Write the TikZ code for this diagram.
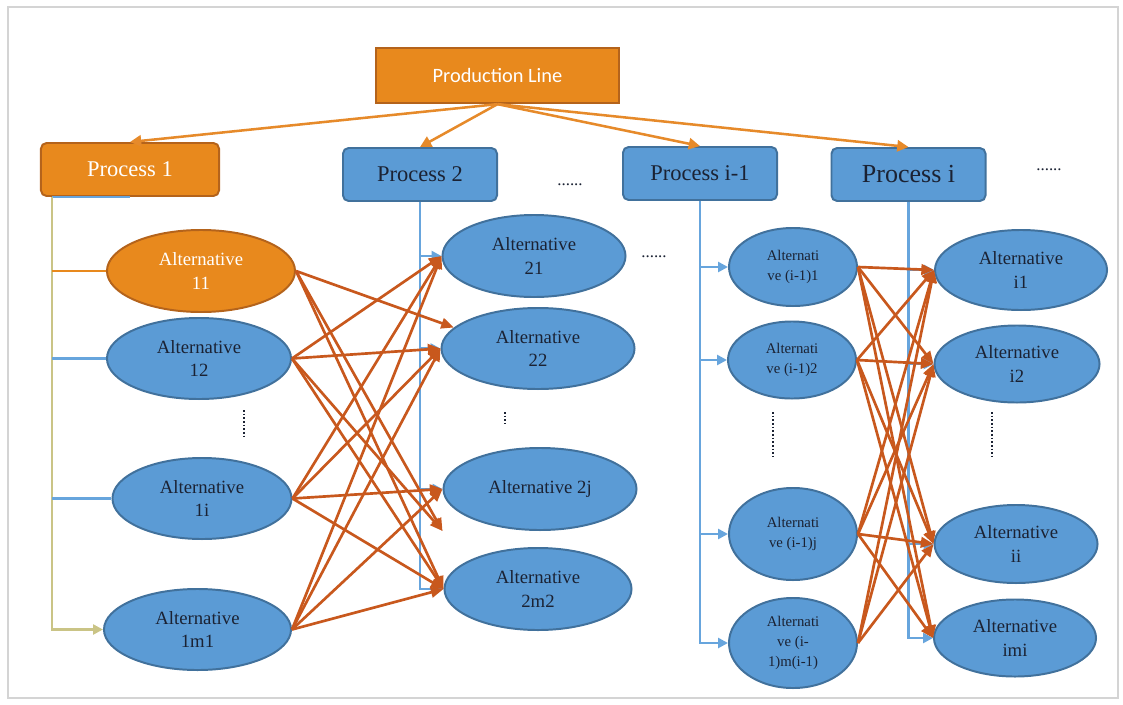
\documentclass[tikz,border=0pt]{standalone}
\usepackage{fontspec}
\setmainfont{Liberation Serif}
\newfontfamily\plfont{Carlito}
\usetikzlibrary{arrows.meta,shapes.geometric,calc}
\definecolor{OrangeFill}{HTML}{E8891D}
\definecolor{OrangeLine}{HTML}{B4631B}
\definecolor{BlueFill}{HTML}{5B9BD5}
\definecolor{BlueLine}{HTML}{41719C}
\definecolor{TreeBlue}{HTML}{67A5DD}
\definecolor{Rust}{HTML}{C8581D}
\definecolor{TopOrange}{HTML}{E68A2A}
\definecolor{Khaki}{HTML}{CAC486}
\definecolor{Ink}{HTML}{1B2233}
\definecolor{FrameGray}{HTML}{D4D4D4}

\tikzset{
  plbox/.style={rectangle,fill=OrangeFill,draw=OrangeLine,line width=1.6pt,minimum width=6.075cm,minimum height=1.375cm,text=white,font=\plfont\fontsize{14.5}{17}\selectfont},
  procbox/.style={rectangle,rounded corners=4pt,fill=BlueFill,draw=BlueLine,line width=1.4pt,minimum width=3.85cm,minimum height=1.325cm,text=Ink,font=\fontsize{16}{19}\selectfont},
  altnode/.style={ellipse,fill=BlueFill,draw=BlueLine,line width=1.4pt,inner sep=0pt,align=center,text=Ink,font=\fontsize{13.3}{16.5}\selectfont},
  altsmall/.style={altnode,minimum width=3.2cm,font=\fontsize{10.5}{14.2}\selectfont},
  hotnode/.style={fill=OrangeFill,draw=OrangeLine,text=white},
  gapdots/.style={inner sep=0pt,text=Ink,font=\fontsize{12}{14}\selectfont},
  vdots/.style={Ink,line width=1.5pt,dash pattern=on 1.3pt off 1.3pt},
  toparrow/.style={-{Triangle[length=8pt,width=8pt]},TopOrange,line width=1.8pt},
  treeline/.style={TreeBlue,line width=1.8pt},
  treearrow/.style={treeline,-{Triangle[length=7pt,width=7pt]}},
  crossarrow/.style={-{Triangle[length=9pt,width=7.5pt]},Rust,line width=1.9pt},
}

\begin{document}
\begin{tikzpicture}[x=0.025cm,y=-0.025cm]
\useasboundingbox (0,0) rectangle (1123,704);
\draw[FrameGray,line width=1.8pt] (8,7) rectangle (1118,698);

% line and processes
\node[plbox] (pl) at (497.5,75.5) {Production Line};
\node[procbox,hotnode,minimum width=4.45cm] (p1) at (130,169.5) {Process 1};
\node[procbox] (p2) at (420,174.5) {Process 2};
\node[procbox] (p3) at (700,173.5) {Process i-1};
\node[procbox,font=\fontsize{18.5}{21}\selectfont] (p4) at (908.5,174.5) {Process i};

\node[gapdots] (gap2) at (570,185) {......};
\node[gapdots] (gap3) at (654,257) {......};
\node[gapdots] (gap4) at (1049,170) {......};

% alternatives of process 1
\node[altnode,hotnode,minimum width=4.7cm,minimum height=2.05cm] (a11) at (201,271) {Alternative\\11};
\node[altnode,minimum width=4.6cm,minimum height=2.025cm] (a12) at (199,358.5) {Alternative\\12};
\node[altnode,minimum width=4.475cm,minimum height=2.025cm] (a1i) at (202,498.5) {Alternative\\1i};
\node[altnode,minimum width=4.675cm,minimum height=2.025cm] (a1m) at (197.5,629.5) {Alternative\\1m1};

% alternatives of process 2
\node[altnode,minimum width=4.575cm,minimum height=2.05cm] (a21) at (534,256) {Alternative\\21};
\node[altnode,minimum width=4.825cm,minimum height=2.025cm] (a22) at (538,348.5) {Alternative\\22};
\node[altnode,minimum width=4.825cm,minimum height=2.05cm] (a2j) at (540,489) {Alternative 2j};
\node[altnode,minimum width=4.675cm,minimum height=2.05cm] (a2m) at (538,589) {Alternative\\2m2};

% alternatives of process i-1
\node[altsmall,minimum height=1.95cm] (a31) at (793,267) {Alternati\\ve (i-1)1};
\node[altsmall,minimum height=1.925cm] (a32) at (792,360) {Alternati\\ve (i-1)2};
\node[altsmall,minimum height=2.3cm] (a3j) at (793,534) {Alternati\\ve (i-1)j};
\node[altsmall,minimum height=2.25cm] (a3m) at (793,643) {Alternati\\ve (i-\\1)m(i-1)};

% alternatives of process i
\node[altnode,minimum width=4.3cm,minimum height=2cm] (a41) at (1021,270) {Alternative\\i1};
\node[altnode,minimum width=4.125cm,minimum height=1.925cm] (a42) at (1017,364) {Alternative\\i2};
\node[altnode,minimum width=4.075cm,minimum height=1.95cm] (a4i) at (1016,544) {Alternative\\ii};
\node[altnode,minimum width=4.05cm,minimum height=1.925cm] (a4m) at (1015,638) {Alternative\\imi};

\draw[vdots] (244,410) -- (244,436);
\draw[vdots] (505,412) -- (505,424);
\draw[vdots] (773,412) -- (773,457);
\draw[vdots] (992,412) -- (992,457);

% production line to processes
\draw[toparrow] (pl.south) -- (p1.north);
\draw[toparrow] (pl.south) -- (p2.north);
\draw[toparrow] (pl.south) -- (p3.north);
\draw[toparrow] (pl.south) -- (p4.north);

% process trees
\coordinate (t1) at ($(p1.south west)+(12,0)$);
\draw[treeline] (t1) -- (t1 -| p1.south);
\draw[Khaki,line width=1.8pt,-{Triangle[length=7pt,width=7pt]}] (t1) |- (a1m.west);
\draw[OrangeFill,line width=1.8pt] (t1 |- a11.west) -- (a11.west);
\draw[treeline] (t1 |- a12.west) -- (a12.west);
\draw[treeline] (t1 |- a1i.west) -- (a1i.west);

\draw[treearrow] (p2.south) |- (a2m.west);
\draw[treearrow] (p2.south |- a21.west) -- (a21.west);
\draw[treearrow] (p2.south |- a22.west) -- (a22.west);
\draw[treearrow] (p2.south |- a2j.west) -- (a2j.west);

\draw[treearrow] (p3.south) |- (a3m.west);
\draw[treearrow] (p3.south |- a31.west) -- (a31.west);
\draw[treearrow] (p3.south |- a32.west) -- (a32.west);
\draw[treearrow] (p3.south |- a3j.west) -- (a3j.west);

\draw[treearrow] (p4.south) |- (a4m.west);
\draw[treearrow] (p4.south |- a41.west) -- (a41.west);
\draw[treearrow] (p4.south |- a42.west) -- (a42.west);
\draw[treearrow] (p4.south |- a4i.west) -- (a4i.west);

% process 1 to process 2
\draw[crossarrow] (a11.east) -- (a22.166);
\draw[crossarrow] (a11.east) -- (a2j.west |- a2j.south);
\draw[crossarrow] (a11.east) -- (a2m.west);
\draw[crossarrow] (a12.east) -- (a21.west);
\draw[crossarrow] (a12.east) -- (a22.west);
\draw[crossarrow] (a12.east) -- (a2j.west |- a2j.south);
\draw[crossarrow] (a12.east) -- (a2m.west);
\draw[crossarrow] (a1i.east) -- (a21.west);
\draw[crossarrow] (a1i.east) -- (a22.west);
\draw[crossarrow] (a1i.east) -- (a2j.west);
\draw[crossarrow] (a1i.east) -- (a2m.west);
\draw[crossarrow] (a1m.east) -- (a21.west);
\draw[crossarrow] (a1m.east) -- (a22.west);
\draw[crossarrow] (a1m.east) -- (a2j.west);
\draw[crossarrow] (a1m.east) -- (a2m.west);

% process i-1 to process i
\draw[crossarrow] (a31.east) -- (a41.west);
\draw[crossarrow] (a31.east) -- (a42.west);
\draw[crossarrow] (a31.east) -- (a4i.west);
\draw[crossarrow] (a31.east) -- (a4m.west);
\draw[crossarrow] (a32.east) -- (a41.west);
\draw[crossarrow] (a32.east) -- (a42.west);
\draw[crossarrow] (a32.east) -- (a4i.west);
\draw[crossarrow] (a32.east) -- (a4m.west);
\draw[crossarrow] (a3j.east) -- (a41.west);
\draw[crossarrow] (a3j.east) -- (a42.west);
\draw[crossarrow] (a3j.east) -- (a4i.west);
\draw[crossarrow] (a3j.east) -- (a4m.west);
\draw[crossarrow] (a3m.east) -- (a41.west);
\draw[crossarrow] (a3m.east) -- (a42.west);
\draw[crossarrow] (a3m.east) -- (a4i.west);
\end{tikzpicture}
\end{document}
